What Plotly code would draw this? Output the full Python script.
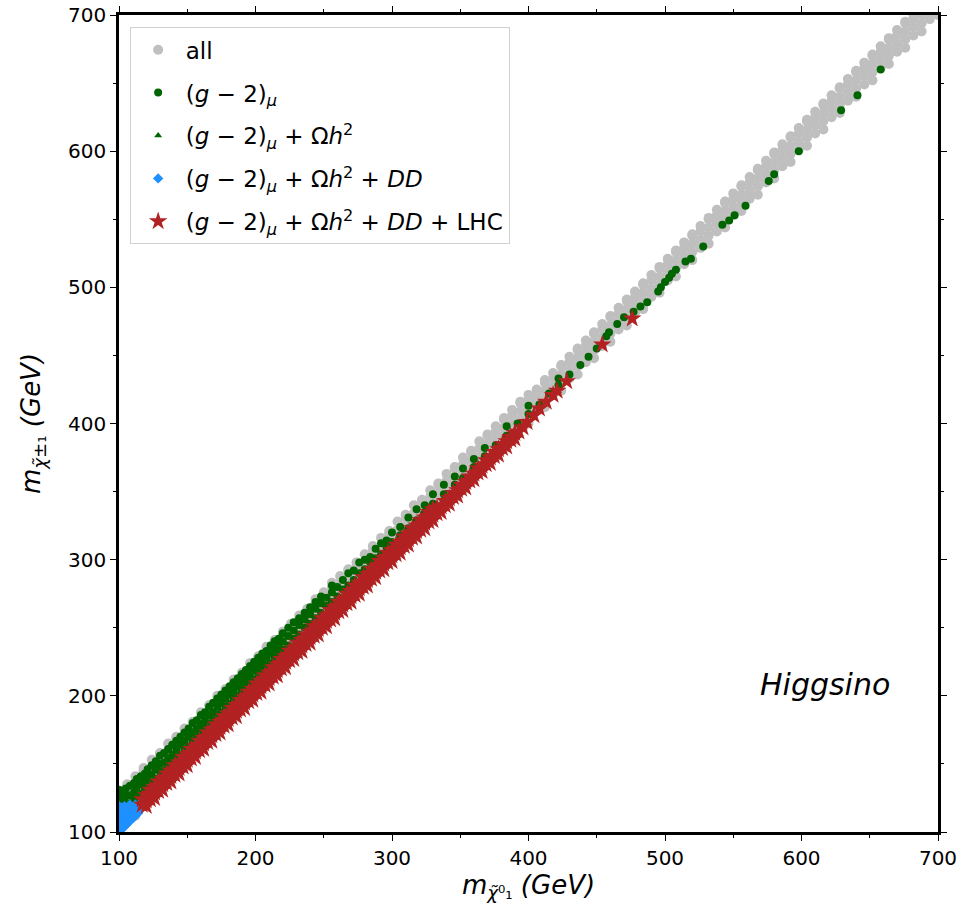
import plotly.graph_objects as go

# neutralino mass (x) vs chargino mass (y), GeV
all_pts = [
    (100, 100), (100, 106), (100, 112), (100, 118), (100, 124), (100, 130),
    (106, 109), (106, 115), (106, 121), (106, 127), (106, 133), (106, 135),
    (112, 112), (112, 118), (112, 124), (112, 130), (112, 136), (112, 141),
    (118, 121), (118, 127), (118, 133), (118, 139), (118, 145), (118, 147),
    (124, 124), (124, 130), (124, 136), (124, 142), (124, 148), (124, 153),
    (130, 133), (130, 139), (130, 145), (130, 151), (130, 157), (130, 158),
    (136, 136), (136, 142), (136, 148), (136, 154), (136, 160), (136, 165),
    (142, 145), (142, 151), (142, 157), (142, 163), (142, 169), (142, 170),
    (148, 148), (148, 154), (148, 160), (148, 166), (148, 172), (148, 176),
    (154, 157), (154, 163), (154, 169), (154, 175), (154, 181),
    (160, 160), (160, 166), (160, 172), (160, 178), (160, 184), (160, 188),
    (166, 169), (166, 175), (166, 181), (166, 187), (166, 193),
    (172, 172), (172, 178), (172, 184), (172, 190), (172, 196), (172, 200),
    (178, 181), (178, 187), (178, 193), (178, 199), (178, 205),
    (184, 184), (184, 190), (184, 196), (184, 202), (184, 208), (184, 212),
    (190, 193), (190, 199), (190, 205), (190, 211), (190, 217),
    (196, 196), (196, 202), (196, 208), (196, 214), (196, 220), (196, 224),
    (202, 205), (202, 211), (202, 217), (202, 223), (202, 229),
    (208, 208), (208, 214), (208, 220), (208, 226), (208, 232), (208, 236),
    (214, 217), (214, 223), (214, 229), (214, 235), (214, 241),
    (220, 220), (220, 226), (220, 232), (220, 238), (220, 244), (220, 247),
    (226, 229), (226, 235), (226, 241), (226, 247), (226, 253),
    (232, 232), (232, 238), (232, 244), (232, 250), (232, 256), (232, 259),
    (238, 241), (238, 247), (238, 253), (238, 259), (238, 264),
    (244, 244), (244, 250), (244, 256), (244, 262), (244, 268), (244, 271),
    (250, 253), (250, 259), (250, 265), (250, 271), (250, 276),
    (256, 256), (256, 262), (256, 268), (256, 274), (256, 280), (256, 283),
    (262, 265), (262, 271), (262, 277), (262, 283), (262, 288),
    (268, 268), (268, 274), (268, 280), (268, 286), (268, 292), (268, 293),
    (274, 277), (274, 283), (274, 289), (274, 295), (274, 298),
    (280, 280), (280, 286), (280, 292), (280, 298), (280, 304),
    (286, 289), (286, 295), (286, 301), (286, 307), (286, 310),
    (292, 292), (292, 298), (292, 304), (292, 310), (292, 316),
    (298, 301), (298, 307), (298, 313), (298, 319), (298, 321),
    (304, 304), (304, 310), (304, 316), (304, 322), (304, 328),
    (310, 313), (310, 319), (310, 325), (310, 331), (310, 333),
    (316, 316), (316, 322), (316, 328), (316, 334), (316, 340),
    (322, 325), (322, 331), (322, 337), (322, 343), (322, 344),
    (328, 328), (328, 334), (328, 340), (328, 346), (328, 351),
    (334, 337), (334, 343), (334, 349), (334, 355), (334, 356),
    (340, 340), (340, 346), (340, 352), (340, 358), (340, 363),
    (346, 349), (346, 355), (346, 361), (346, 367), (346, 368),
    (352, 352), (352, 358), (352, 364), (352, 370), (352, 375),
    (358, 361), (358, 367), (358, 373), (358, 379), (358, 380),
    (364, 364), (364, 370), (364, 376), (364, 382), (364, 387),
    (370, 373), (370, 379), (370, 385), (370, 391), (370, 392),
    (376, 376), (376, 382), (376, 388), (376, 394), (376, 398),
    (382, 385), (382, 391), (382, 397), (382, 403), (382, 404),
    (388, 388), (388, 394), (388, 400), (388, 406), (388, 410),
    (394, 397), (394, 403), (394, 409), (394, 415), (394, 416),
    (400, 400), (400, 406), (400, 412), (400, 418), (400, 421),
    (406, 409), (406, 415), (406, 421), (406, 425),
    (412, 412), (412, 418), (412, 424), (412, 430), (412, 432),
    (418, 421), (418, 427), (418, 433), (418, 437),
    (424, 424), (424, 430), (424, 436), (424, 442), (424, 443),
    (430, 433), (430, 439), (430, 445), (430, 449),
    (436, 436), (436, 442), (436, 448), (436, 454), (436, 455),
    (442, 445), (442, 451), (442, 457), (442, 461),
    (448, 448), (448, 454), (448, 460), (448, 466), (448, 467),
    (454, 457), (454, 463), (454, 469), (454, 473),
    (460, 460), (460, 466), (460, 472), (460, 478), (460, 479),
    (466, 469), (466, 475), (466, 481), (466, 485),
    (472, 472), (472, 478), (472, 484), (472, 490), (472, 491),
    (478, 481), (478, 487), (478, 493), (478, 497),
    (484, 484), (484, 490), (484, 496), (484, 502), (484, 503),
    (490, 493), (490, 499), (490, 505), (490, 509),
    (496, 496), (496, 502), (496, 508), (496, 514), (496, 515),
    (502, 505), (502, 511), (502, 517), (502, 521),
    (508, 508), (508, 514), (508, 520), (508, 526), (508, 527),
    (514, 517), (514, 523), (514, 529), (514, 533),
    (520, 520), (520, 526), (520, 532), (520, 538), (520, 539),
    (526, 529), (526, 535), (526, 541), (526, 545),
    (532, 532), (532, 538), (532, 544), (532, 550), (532, 551),
    (538, 541), (538, 547), (538, 553), (538, 557),
    (544, 544), (544, 550), (544, 556), (544, 562), (544, 563),
    (550, 553), (550, 559), (550, 565), (550, 569),
    (556, 556), (556, 562), (556, 568), (556, 574), (556, 575),
    (562, 565), (562, 571), (562, 577), (562, 581),
    (568, 568), (568, 574), (568, 580), (568, 586), (568, 587),
    (574, 577), (574, 583), (574, 589), (574, 593),
    (580, 580), (580, 586), (580, 592), (580, 598), (580, 599),
    (586, 589), (586, 595), (586, 601), (586, 605),
    (592, 592), (592, 598), (592, 604), (592, 610), (592, 611),
    (598, 601), (598, 607), (598, 613), (598, 617),
    (604, 604), (604, 610), (604, 616), (604, 622), (604, 623),
    (610, 613), (610, 619), (610, 625), (610, 629),
    (616, 616), (616, 622), (616, 628), (616, 634), (616, 635),
    (622, 625), (622, 631), (622, 637), (622, 641),
    (628, 628), (628, 634), (628, 640), (628, 646), (628, 647),
    (634, 637), (634, 643), (634, 649), (634, 653),
    (640, 640), (640, 646), (640, 652), (640, 658), (640, 659),
    (646, 649), (646, 655), (646, 661), (646, 665),
    (652, 652), (652, 658), (652, 664), (652, 670), (652, 671),
    (658, 661), (658, 667), (658, 673), (658, 677),
    (664, 664), (664, 670), (664, 676), (664, 682), (664, 683),
    (670, 673), (670, 679), (670, 685), (670, 689),
    (676, 676), (676, 682), (676, 688), (676, 694), (676, 695),
    (682, 685), (682, 691), (682, 697), (682, 700),
    (688, 688), (688, 694), (688, 700), (694, 697), (694, 700), (700, 700),
]

g2_pts = [
    (100, 114), (100, 120), (100, 126), (100, 131), (103, 117), (103, 123), (103, 129),
    (105, 113), (105, 119), (105, 126), (105, 132), (108, 121), (108, 127), (108, 134),
    (111, 123), (111, 129), (111, 136), (113, 120), (113, 126), (113, 133), (113, 139),
    (116, 128), (116, 135), (116, 141), (119, 131), (119, 137), (119, 143),
    (121, 127), (121, 134), (121, 141), (121, 146), (124, 136), (124, 142), (124, 149),
    (127, 139), (127, 146), (127, 152), (130, 138), (130, 144), (130, 150), (130, 156),
    (133, 145), (133, 151), (133, 158), (136, 148), (136, 154), (136, 161),
    (139, 151), (139, 157), (139, 164), (142, 155), (142, 161), (142, 167),
    (145, 157), (145, 164), (145, 170), (148, 161), (148, 167), (148, 173),
    (151, 163), (151, 170), (151, 176), (154, 167), (154, 173), (154, 180),
    (157, 170), (157, 176), (157, 182), (160, 173), (160, 179), (160, 186),
    (163, 176), (163, 182), (163, 188), (166, 179), (166, 186), (166, 192),
    (169, 182), (169, 188), (169, 195), (172, 186), (172, 192), (172, 198),
    (175, 188), (175, 195), (175, 201), (178, 192), (178, 198), (178, 204),
    (181, 194), (181, 201), (181, 207), (184, 198), (184, 204), (184, 210),
    (187, 200), (187, 207), (187, 213), (190, 204), (190, 210), (190, 216),
    (193, 207), (193, 213), (193, 219), (196, 210), (196, 216), (196, 222),
    (199, 212), (199, 219), (199, 225), (202, 216), (202, 222), (202, 228),
    (205, 219), (205, 225), (205, 231), (208, 222), (208, 228), (208, 233),
    (211, 224), (211, 231), (211, 237), (214, 228), (214, 234), (214, 240),
    (217, 231), (217, 237), (217, 242), (220, 234), (220, 240), (220, 246),
    (224, 237), (224, 244), (224, 250), (228, 242), (228, 248), (228, 254),
    (232, 245), (232, 252), (232, 257), (236, 250), (236, 256), (236, 261),
    (240, 253), (240, 260), (240, 265), (244, 257), (244, 264), (244, 269),
    (248, 261), (248, 268), (248, 273), (252, 266), (252, 272),
    (256, 269), (256, 276), (256, 281), (260, 273), (260, 280),
    (264, 278), (264, 285), (268, 281), (268, 290), (272, 285), (272, 292),
    (276, 290), (276, 298), (280, 293), (280, 300), (284, 298), (284, 302),
    (288, 301), (288, 308), (292, 304), (292, 312), (296, 309), (296, 314),
    (300, 313), (300, 320), (306, 318), (306, 324), (312, 323), (312, 331),
    (318, 329), (318, 337), (324, 334), (324, 340), (330, 341), (330, 348),
    (338, 348), (338, 355), (346, 355), (346, 361), (352, 360), (352, 367),
    (360, 368), (360, 374), (368, 376), (368, 382), (376, 384),
    (384, 391), (384, 398), (392, 400), (400, 407), (400, 413), (408, 414),
    (415, 422), (422, 428), (422, 433), (430, 436), (438, 443), (444, 449),
    (450, 455), (457, 464), (459, 467), (465, 473), (470, 478), (477, 482),
    (482, 486), (487, 489), (495, 497), (497, 500), (500, 504), (503, 507),
    (505, 510), (508, 513), (515, 519), (519, 521), (528, 530), (542, 546),
    (547, 549), (551, 553), (559, 560), (576, 578), (580, 583), (598, 600),
    (629, 630), (641, 641), (658, 660),
]

relic_pts = [(101, 104), (105, 110), (109, 114), (113, 117)]

dd_pts = [
    (100, 100), (100, 104), (100, 108), (100, 112), (100, 116), (100, 119),
    (102, 102), (102, 106), (102, 110), (102, 114), (102, 118),
    (104, 104), (104, 108), (104, 112), (104, 116), (104, 119),
    (106, 106), (106, 110), (106, 114), (106, 118),
    (108, 108), (108, 112), (108, 116), (108, 120),
    (110, 110), (110, 114), (110, 118), (112, 112), (112, 116), (112, 120),
    (114, 114), (114, 118), (116, 117), (116, 120),
]

lhc_pts = [
    (117, 120), (117, 124), (120, 119), (120, 123), (120, 127),
    (123, 124), (123, 128), (123, 131), (126, 125), (126, 129), (126, 133),
    (129, 130), (129, 134), (129, 137), (132, 131), (132, 135), (132, 139),
    (135, 136), (135, 140), (135, 143), (138, 137), (138, 141), (138, 145),
    (141, 142), (141, 146), (141, 149), (144, 143), (144, 147), (144, 151),
    (147, 148), (147, 152), (147, 155), (150, 149), (150, 153), (150, 157),
    (153, 154), (153, 158), (153, 161), (156, 155), (156, 159), (156, 163),
    (159, 160), (159, 164), (159, 167), (162, 161), (162, 165), (162, 169),
    (165, 166), (165, 170), (165, 173), (168, 167), (168, 171), (168, 175),
    (171, 172), (171, 176), (171, 179), (174, 173), (174, 177), (174, 181),
    (177, 178), (177, 182), (177, 185), (180, 179), (180, 183), (180, 187),
    (183, 184), (183, 188), (183, 191), (186, 185), (186, 189), (186, 193),
    (189, 190), (189, 194), (189, 197), (192, 191), (192, 195), (192, 199),
    (195, 196), (195, 200), (195, 203), (198, 197), (198, 201), (198, 205),
    (201, 202), (201, 206), (201, 209), (204, 203), (204, 207), (204, 211),
    (207, 208), (207, 212), (207, 215), (210, 209), (210, 213), (210, 217),
    (213, 214), (213, 218), (213, 221), (216, 215), (216, 219), (216, 223),
    (219, 220), (219, 224), (219, 227), (222, 221), (222, 225), (222, 229),
    (225, 226), (225, 230), (225, 233), (228, 227), (228, 231), (228, 235),
    (231, 232), (231, 236), (231, 239), (234, 233), (234, 237), (234, 241),
    (237, 238), (237, 242), (237, 245), (240, 239), (240, 243), (240, 247),
    (243, 244), (243, 248), (243, 251), (246, 245), (246, 249), (246, 253),
    (249, 250), (249, 254), (249, 257), (252, 251), (252, 255), (252, 259),
    (255, 256), (255, 260), (255, 263), (258, 257), (258, 261), (258, 265),
    (261, 262), (261, 266), (261, 269), (264, 263), (264, 267), (264, 271),
    (267, 268), (267, 272), (267, 275), (270, 269), (270, 273), (270, 277),
    (273, 274), (273, 278), (273, 281), (276, 275), (276, 279), (276, 283),
    (279, 280), (279, 284), (279, 287), (282, 281), (282, 285), (282, 289),
    (285, 286), (285, 290), (285, 293), (288, 287), (288, 291), (288, 295),
    (291, 292), (291, 296), (291, 299), (294, 293), (294, 297), (294, 301),
    (297, 298), (297, 302), (297, 305), (300, 299), (300, 303), (300, 307),
    (303, 304), (303, 308), (303, 311), (306, 305), (306, 309), (306, 313),
    (309, 310), (309, 314), (309, 317), (312, 311), (312, 315), (312, 319),
    (315, 316), (315, 320), (315, 323), (318, 317), (318, 321), (318, 325),
    (321, 322), (321, 326), (321, 329), (324, 323), (324, 327), (324, 331),
    (327, 328), (327, 332), (327, 335), (330, 329), (330, 333), (330, 337),
    (333, 334), (333, 338), (336, 335), (336, 339), (339, 340), (339, 343),
    (342, 341), (342, 345), (345, 346), (345, 349), (348, 347), (348, 351),
    (351, 352), (351, 355), (354, 353), (354, 357), (357, 358), (357, 361),
    (360, 359), (360, 363), (363, 364), (363, 367), (366, 365), (366, 369),
    (369, 370), (369, 373), (372, 371), (372, 375), (375, 376), (375, 379),
    (378, 377), (378, 381), (381, 382), (381, 385), (384, 383), (384, 387),
    (387, 388), (387, 390), (390, 389), (390, 393), (393, 394), (396, 397),
    (399, 401), (404, 406), (408, 411), (413, 416), (418, 421), (421, 424),
    (428, 431), (454, 458), (476, 477),
]

labels = [
    "all",
    "(<i>g</i> − 2)<sub><i>μ</i></sub>",
    "(<i>g</i> − 2)<sub><i>μ</i></sub> + Ω<i>h</i><sup>2</sup>",
    "(<i>g</i> − 2)<sub><i>μ</i></sub> + Ω<i>h</i><sup>2</sup> + <i>DD</i>",
    "(<i>g</i> − 2)<sub><i>μ</i></sub> + Ω<i>h</i><sup>2</sup> + <i>DD</i> + LHC",
]


def xy(pts):
    return [p[0] for p in pts], [p[1] for p in pts]


fig = go.Figure()

series = [
    (all_pts, labels[0], "#bfbfbf", "circle", 10),
    (g2_pts, labels[1], "#006400", "circle", 8),
    (relic_pts, labels[2], "#006400", "triangle-up", 7),
    (dd_pts, labels[3], "#1e90ff", "diamond", 8),
    (lhc_pts, labels[4], "#b22222", "star", 14),
]
for i, (pts, name, col, sym, sz) in enumerate(series):
    x, y = xy(pts)
    fig.add_trace(go.Scatter(x=x, y=y, mode="markers", name=name,
                             legendgroup=str(i),
                             marker=dict(color=col, symbol=sym, size=sz,
                                         line=dict(width=0))))

fig.add_annotation(x=617, y=208, text="<i>Higgsino</i>", showarrow=False,
                   font=dict(size=30, color="black"))

axis_common = dict(
    range=[100, 700], dtick=100, showgrid=False, zeroline=False,
    showline=True, linecolor="black", linewidth=2.5, mirror="ticks",
    ticks="outside", ticklen=6, tickwidth=1.2, tickcolor="black",
    tickfont=dict(size=20, color="black"), automargin=False,
    minor=dict(dtick=50, ticks="outside", ticklen=3, tickcolor="black"),
)

fig.update_xaxes(**axis_common,
                 title=dict(text="<i>m</i><sub><i>χ̃</i>⁰₁</sub> <i>(GeV)</i>",
                            font=dict(size=26, color="black"), standoff=0))
fig.update_yaxes(**axis_common,
                 title=dict(text="<i>m</i><sub><i>χ̃</i>±₁</sub> <i>(GeV)</i>",
                            font=dict(size=26, color="black"), standoff=20))

fig.update_layout(
    width=965, height=909,
    margin=dict(l=119, r=27, t=15, b=77),
    plot_bgcolor="white", paper_bgcolor="white",
    font=dict(family="DejaVu Sans", color="black"),
    legend=dict(x=0.013, y=0.985, xanchor="left", yanchor="top",
                bgcolor="white", bordercolor="#d0d0d0", borderwidth=1,
                font=dict(size=23), itemsizing="trace", tracegroupgap=10,
                itemwidth=45),
)

fig.write_html("out.html", config={"displayModeBar": False},
               post_script="document.body.style.margin='0px';")
